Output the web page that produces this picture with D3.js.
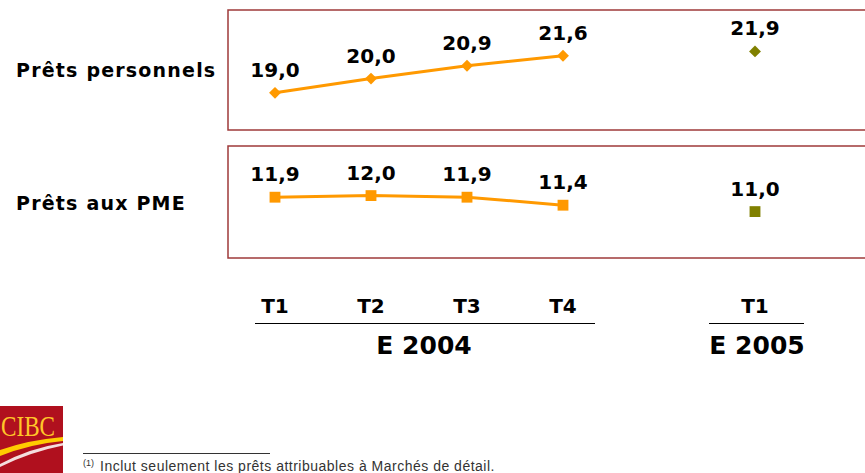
<!DOCTYPE html>
<html>
<head>
<meta charset="utf-8">
<script src="https://cdn.jsdelivr.net/npm/d3@7"></script>
<style>
  body { margin: 0; background: #fff; }
  svg { display: block; }
</style>
</head>
<body>
<svg width="865" height="473"></svg>
<script>
  // data
  var periods = ["T1", "T2", "T3", "T4", "T1"];
  var periodKeys = ["T1-2004", "T2-2004", "T3-2004", "T4-2004", "T1-2005"];
  var years = ["E 2004", "E 2005"];
  var rows = ["Prêts personnels", "Prêts aux PME"];
  var personnels = [19.0, 20.0, 20.9, 21.6, 21.9];
  var pme = [11.9, 12.0, 11.9, 11.4, 11.0];
  var footnote = "Inclut seulement les prêts attribuables à Marchés de détail.";

  // parameters
  var orange = "#ff9900";
  var olive = "#808000";
  var boxColor = "#9e3a3a";
  var fr = d3.formatLocale({decimal: ",", thousands: " ", grouping: [3], currency: ["", ""]});
  var fmt = fr.format(".1f");

  var svg = d3.select("svg");

  // x positions: one empty slot between 2004 and 2005
  var x = d3.scalePoint()
    .domain(["T1-2004", "T2-2004", "T3-2004", "T4-2004", "gap", "T1-2005"])
    .range([275, 755]);

  var panels = [
    {label: rows[0], values: personnels, shape: d3.symbolDiamond2, size: 90,
     y: d3.scaleLinear().domain([16.4, 24.8]).range([130, 10]), top: 10, bottom: 130, labelY: 77},
    {label: rows[1], values: pme, shape: d3.symbolSquare2, size: 150,
     y: d3.scaleLinear().domain([8.1, 15.1]).range([258, 146]), top: 146, bottom: 258, labelY: 210}
  ];

  panels.forEach(function(p) {
    // frame
    svg.append("rect")
      .attr("x", 228).attr("y", p.top)
      .attr("width", 700).attr("height", p.bottom - p.top)
      .attr("fill", "none").attr("stroke", boxColor).attr("stroke-width", 1.5);

    svg.append("text")
      .attr("x", 16).attr("y", p.labelY)
      .attr("font-family", "DejaVu Sans").attr("font-weight", "bold")
      .attr("font-size", 19).attr("letter-spacing", 1.2)
      .text(p.label);

    var pts = p.values.map(function(v, i) { return {key: periodKeys[i], v: v, last: i == 4}; });
    var line2004 = pts.filter(function(d) { return !d.last; });

    svg.append("path")
      .datum(line2004)
      .attr("fill", "none").attr("stroke", orange).attr("stroke-width", 3)
      .attr("d", d3.line()
        .x(function(d) { return x(d.key); })
        .y(function(d) { return p.y(d.v); }));

    svg.selectAll(null).data(pts).enter().append("path")
      .attr("transform", function(d) { return "translate(" + x(d.key) + "," + p.y(d.v) + ")"; })
      .attr("d", d3.symbol().type(p.shape).size(p.size))
      .attr("fill", function(d) { return d.last ? olive : orange; });

    svg.selectAll(null).data(pts).enter().append("text")
      .attr("x", function(d) { return x(d.key); })
      .attr("y", function(d) { return p.y(d.v) - 16; })
      .attr("text-anchor", "middle")
      .attr("font-family", "DejaVu Sans").attr("font-weight", "bold")
      .attr("font-size", 20)
      .text(function(d) { return fmt(d.v); });
  });

  // quarter labels
  svg.selectAll(null).data(periods).enter().append("text")
    .attr("x", function(d, i) { return x(periodKeys[i]); })
    .attr("y", 313)
    .attr("text-anchor", "middle")
    .attr("font-family", "DejaVu Sans").attr("font-weight", "bold")
    .attr("font-size", 20)
    .text(function(d) { return d; });

  // year groups
  var groups = [
    {year: years[0], x1: 255, x2: 595, cx: 424},
    {year: years[1], x1: 709, x2: 804, cx: 757}
  ];
  groups.forEach(function(g) {
    svg.append("line")
      .attr("x1", g.x1).attr("x2", g.x2).attr("y1", 323.5).attr("y2", 323.5)
      .attr("stroke", "#000").attr("stroke-width", 1.2);
    svg.append("text")
      .attr("x", g.cx).attr("y", 354)
      .attr("text-anchor", "middle")
      .attr("font-family", "DejaVu Sans").attr("font-weight", "bold")
      .attr("font-size", 25)
      .text(g.year);
  });

  // CIBC logo
  var logo = svg.append("g").attr("transform", "translate(0,406)");
  logo.append("rect").attr("width", 63).attr("height", 67).attr("fill", "#b0101e");
  logo.append("text")
    .attr("x", 1).attr("y", 30)
    .attr("font-family", "Liberation Serif").attr("font-size", 29)
    .attr("textLength", 54).attr("lengthAdjust", "spacingAndGlyphs")
    .attr("fill", "#ffc629")
    .text("CIBC");
  logo.append("path")
    .attr("d", "M0,44 Q28,34 63,31 L63,35 Q30,38 0,50 Z")
    .attr("fill", "#ffcc00");
  logo.append("path")
    .attr("d", "M0,58 Q30,42 63,37 L63,39.5 Q30,46 0,61 Z")
    .attr("fill", "#f4dede");

  // footnote
  svg.append("line")
    .attr("x1", 83).attr("x2", 270).attr("y1", 453.5).attr("y2", 453.5)
    .attr("stroke", "#333").attr("stroke-width", 1);
  svg.append("text")
    .attr("x", 83).attr("y", 466)
    .attr("font-family", "Liberation Sans").attr("font-size", 9)
    .attr("fill", "#333")
    .text("(1)");
  svg.append("text")
    .attr("x", 100).attr("y", 471)
    .attr("font-family", "Liberation Sans").attr("font-size", 14)
    .attr("letter-spacing", 0.5)
    .attr("fill", "#333")
    .text(footnote);
</script>
</body>
</html>
